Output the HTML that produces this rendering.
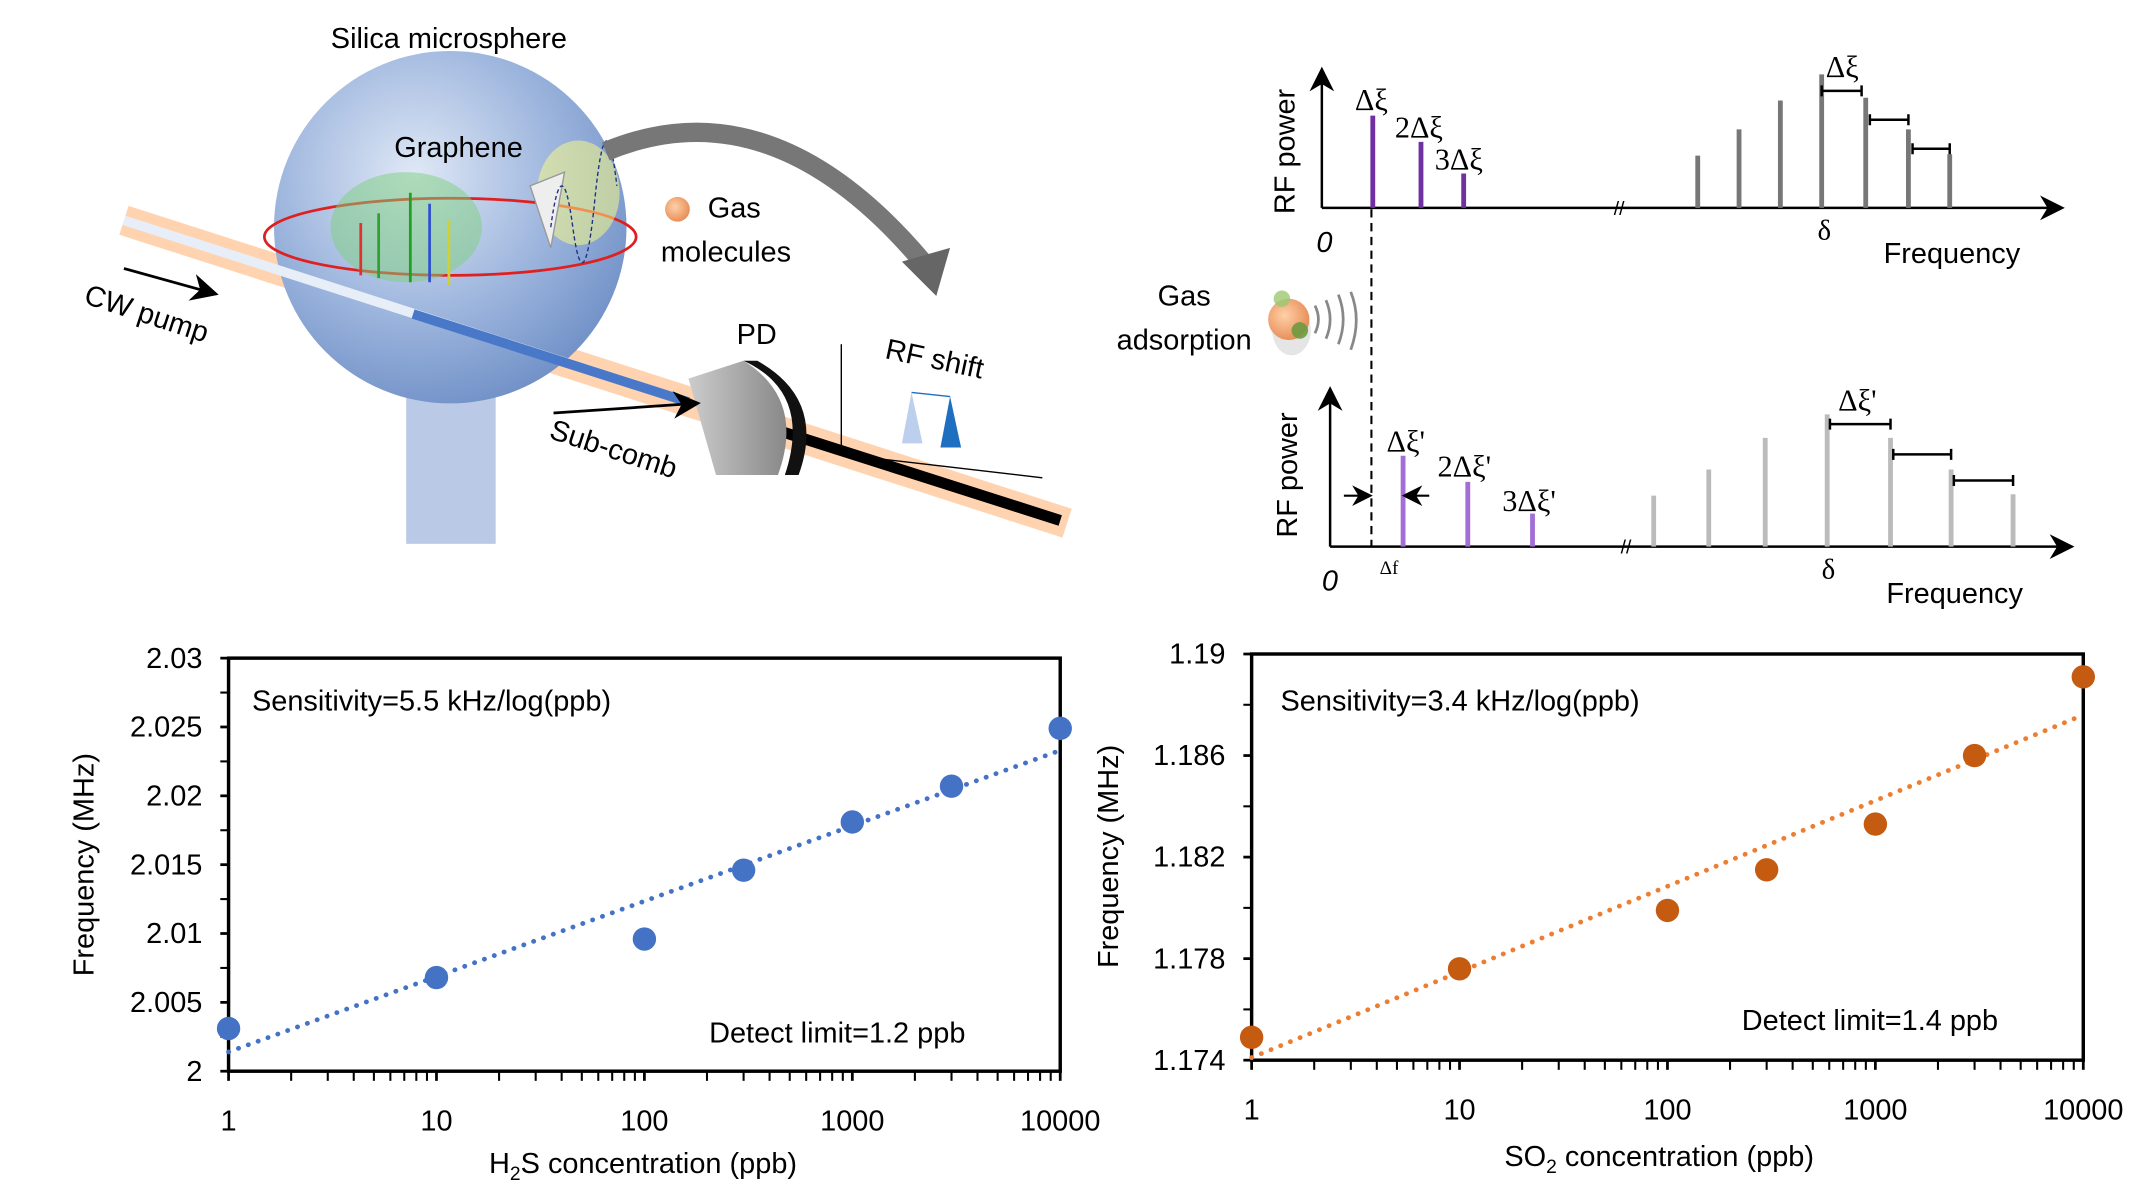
<!DOCTYPE html>
<html><head><meta charset="utf-8"><style>
html,body{margin:0;padding:0;background:#fff;}
svg{display:block;}
text{font-family:"Liberation Sans",sans-serif;}
.serif{font-family:"Liberation Serif",serif;}
</style></head><body>
<svg id="root" width="2148" height="1202" viewBox="0 0 1560 873" preserveAspectRatio="none" xmlns="http://www.w3.org/2000/svg">
<defs>
<radialGradient id="sph" cx="40%" cy="35%" r="70%"><stop offset="0" stop-color="#dfe8f6"/><stop offset="0.6" stop-color="#9ab3dc"/><stop offset="1" stop-color="#6f8fc6"/></radialGradient>
<radialGradient id="gas" cx="40%" cy="40%" r="60%"><stop offset="0" stop-color="#ffd0a8"/><stop offset="1" stop-color="#e8905a"/></radialGradient>
<linearGradient id="pd" x1="0" x2="1"><stop offset="0" stop-color="#ccc"/><stop offset="1" stop-color="#888"/></linearGradient>
<marker id="ah" markerWidth="10" markerHeight="10" refX="8" refY="5" orient="auto"><path d="M0,0 L10,5 L0,10 L3,5 z" fill="#000"/></marker>
</defs>

<g>
  <rect x="295" y="285" width="65" height="110" fill="#a9bde0" opacity="0.8"/>
  <ellipse cx="327" cy="285" rx="33" ry="7" fill="#9cb2da"/>
  <line x1="90" y1="160" x2="775" y2="380" stroke="#ffa050" stroke-width="22" opacity="0.45"/>
  <circle cx="327" cy="165" r="128" fill="url(#sph)"/>
  <ellipse cx="327" cy="172" rx="135" ry="28" fill="none" stroke="#e02020" stroke-width="2"/>
  <ellipse cx="295" cy="165" rx="55" ry="40" fill="#7ed07e" opacity="0.5"/>
  <g stroke-width="2"><line x1="262" y1="162" x2="262" y2="200" stroke="#e03030"/><line x1="275" y1="155" x2="275" y2="202" stroke="#30a030"/><line x1="298" y1="140" x2="298" y2="205" stroke="#20a020"/><line x1="312" y1="148" x2="312" y2="205" stroke="#3050d0"/><line x1="326" y1="160" x2="326" y2="207" stroke="#d0d030"/></g>
  <line x1="90" y1="160" x2="500" y2="292" stroke="#e8eef8" stroke-width="7"/>
  <line x1="300" y1="228" x2="500" y2="292" stroke="#4a78c8" stroke-width="7"/>
  <line x1="560" y1="311" x2="770" y2="378" stroke="#000" stroke-width="8"/>
  <path d="M500,275 L540,262 Q585,290 565,345 L520,345 Z" fill="url(#pd)"/>
  <path d="M540,262 Q590,285 570,345 L580,345 Q600,290 550,262Z" fill="#111"/>
  <ellipse cx="420" cy="140" rx="30" ry="38" fill="#ffff80" opacity="0.5"/>
  <path d="M385,135 L410,125 L400,180 Z" fill="#eee" stroke="#999"/>
  <path d="M400,165 q8,-60 16,0 t16,-20 t16,-10" fill="none" stroke="#203080" stroke-dasharray="3,2"/>
  <path d="M440,110 Q560,60 670,190" fill="none" stroke="#777" stroke-width="14"/>
  <path d="M655,190 L690,180 L680,215 Z" fill="#666"/>
  <circle cx="492" cy="152" r="9" fill="url(#gas)"/>
  <line x1="90" y1="195" x2="155" y2="213" stroke="#000" stroke-width="2" marker-end="url(#ah)"/>
  <line x1="402" y1="300" x2="505" y2="293" stroke="#000" stroke-width="2" marker-end="url(#ah)"/>
  <g>
    <line x1="611" y1="330" x2="611" y2="250" stroke="#000"/>
    <line x1="611" y1="330" x2="757" y2="347" stroke="#000"/>
    <path d="M655,322 L662,285 L670,322Z" fill="#bcd0ee"/>
    <path d="M683,325 L690,288 L698,325Z" fill="#1f6fc0"/>
    <path d="M662,285 L690,288" stroke="#1f6fc0" fill="none"/>
  </g>
  <text x="326" y="35" font-size="21" text-anchor="middle">Silica microsphere</text>
  <text x="333" y="114" font-size="21" text-anchor="middle">Graphene</text>
  <text x="514" y="158" font-size="21">Gas</text>
  <text x="480" y="190" font-size="21">molecules</text>
  <text x="60" y="220" font-size="21" transform="rotate(18 60 220)">CW pump</text>
  <text x="535" y="250" font-size="21">PD</text>
  <text x="398" y="318" font-size="21" transform="rotate(18 398 318)">Sub-comb</text>
  <text x="642" y="260" font-size="21" transform="rotate(12 642 260)">RF shift</text>
</g>

<g>
  <text x="860" y="222" font-size="21" text-anchor="middle">Gas</text>
  <text x="860" y="254" font-size="21" text-anchor="middle">adsorption</text>
  <ellipse cx="938" cy="240" rx="14" ry="18" fill="#ccc" opacity="0.5"/>
  <circle cx="936" cy="232" r="15" fill="url(#gas)"/>
  <circle cx="931" cy="217" r="6" fill="#9cc870" opacity="0.8"/>
  <circle cx="944" cy="240" r="6" fill="#6d9a40" opacity="0.9"/>
  <path d="M955,222 q5,10 0,20 M963,218 q6,14 0,28 M972,214 q7,18 0,36 M981,212 q8,20 0,42" fill="none" stroke="#888" stroke-width="2"/>
</g>

<g id="spec"></g>
<g id="chartL"></g>
<g id="chartR"></g>
</svg>
<script>
const h2sConc = [1, 10, 100, 300, 1000, 3000, 10000];
const h2sFreq = [2.0031, 2.0068, 2.0096, 2.0146, 2.0181, 2.0207, 2.0249];
const h2sFit = [2.0014, 2.0233];
const h2sYTicks = [2, 2.005, 2.01, 2.015, 2.02, 2.025, 2.03];
const h2sYLabels = ["2", "2.005", "2.01", "2.015", "2.02", "2.025", "2.03"];
const so2Conc = [1, 10, 100, 300, 1000, 3000, 10000];
const so2Freq = [1.1749, 1.1776, 1.1799, 1.1815, 1.1833, 1.1860, 1.1891];
const so2Fit = [1.1741, 1.1876];
const so2YTicks = [1.174, 1.178, 1.182, 1.186, 1.19];
const so2YLabels = ["1.174", "1.178", "1.182", "1.186", "1.19"];
const xTickVals = [1, 10, 100, 1000, 10000];
const xTickLabels = ["1", "10", "100", "1000", "10000"];
const topPurple = [67, 48, 25];
const topGray = [38, 57, 78, 97, 80, 57, 39];
const botPurple = [66, 47, 24];
const botGray = [37, 56, 79, 96, 79, 56, 38];

const NS = "http://www.w3.org/2000/svg";
function mk(parent, tag, attrs, txt) {
  const e = document.createElementNS(NS, tag);
  for (const k in attrs) e.setAttribute(k, attrs[k]);
  if (txt !== undefined) e.textContent = txt;
  parent.appendChild(e);
  return e;
}

function drawChart(g, cfg) {
  const {x0, x1, y0, y1, ymin, ymax, conc, freq, fit, yTicks, yLabels, ptColor, lineColor, minorStep} = cfg;
  const sx = v => x0 + Math.log10(v) / 4 * (x1 - x0);
  const sy = v => y1 - (v - ymin) / (ymax - ymin) * (y1 - y0);
  let e = mk(g, "rect", {x: x0, y: y0, width: x1 - x0, height: y1 - y0, fill: "none", stroke: "#000", "stroke-width": 2.5});
  
  
  yTicks.forEach((v, i) => {
    mk(g, "line", {x1: x0 - 6, x2: x0, y1: sy(v), y2: sy(v), stroke: "#000", "stroke-width": 2});
    const t = mk(g, "text", {x: x0 - 19, y: sy(v) + 7, "font-size": 21, "text-anchor": "end"}, yLabels[i]);
    
    
    if (i < yTicks.length - 1) {
      const m = v + minorStep;
      mk(g, "line", {x1: x0 - 6, x2: x0, y1: sy(m), y2: sy(m), stroke: "#000", "stroke-width": 1.5});
    }
  });
  xTickVals.forEach((v, i) => {
    const t = mk(g, "text", {x: sx(v), y: y1 + 43, "font-size": 21, "text-anchor": "middle"}, xTickLabels[i]);
    
    
    if (i < 4) for (let k = 1; k <= 9; k++) {
      const xv = sx(v * k);
      mk(g, "line", {x1: xv, x2: xv, y1: y1, y2: y1 + 7, stroke: "#000", "stroke-width": k === 1 ? 2 : 1.5});
    }
  });
  mk(g, "line", {x1: x1, x2: x1, y1: y1, y2: y1 + 7, stroke: "#000", "stroke-width": 2});
  const fl = mk(g, "line", {x1: sx(1), y1: sy(fit[0]), x2: sx(10000), y2: sy(fit[1]), stroke: lineColor, "stroke-width": 3.5, "stroke-dasharray": "0.1 7.5", "stroke-linecap": "round"});
  
  
  conc.forEach((c, i) => {
    const p = mk(g, "ellipse", {cx: sx(c), cy: sy(freq[i]), rx: 8.5, ry: 8.5, fill: ptColor});
    
    
  });
}

const gL = document.getElementById("chartL");
drawChart(gL, {x0: 166, x1: 770, y0: 478, y1: 778, ymin: 2, ymax: 2.03, conc: h2sConc, freq: h2sFreq, fit: h2sFit, yTicks: h2sYTicks, yLabels: h2sYLabels, ptColor: "#4472c4", lineColor: "#4472c4", minorStep: 0.0025});
mk(gL, "text", {x: 183, y: 516, "font-size": 21}, "Sensitivity=5.5 kHz/log(ppb)");
mk(gL, "text", {x: 515, y: 757, "font-size": 21}, "Detect limit=1.2 ppb");
let tl = mk(gL, "text", {x: 467, y: 852, "font-size": 21, "text-anchor": "middle"});
tl.innerHTML = 'H<tspan font-size="14" dy="5">2</tspan><tspan dy="-5">S concentration (ppb)</tspan>';

mk(gL, "text", {x: 68, y: 628, "font-size": 21, "text-anchor": "middle", transform: "rotate(-90 68 628)"}, "Frequency (MHz)");

const gR = document.getElementById("chartR");
drawChart(gR, {x0: 909, x1: 1513, y0: 475, y1: 770, ymin: 1.174, ymax: 1.19, conc: so2Conc, freq: so2Freq, fit: so2Fit, yTicks: so2YTicks, yLabels: so2YLabels, ptColor: "#c55a11", lineColor: "#ed7d31", minorStep: 0.002});
mk(gR, "text", {x: 930, y: 516, "font-size": 21}, "Sensitivity=3.4 kHz/log(ppb)");
mk(gR, "text", {x: 1265, y: 748, "font-size": 21}, "Detect limit=1.4 ppb");
let tr = mk(gR, "text", {x: 1205, y: 847, "font-size": 21, "text-anchor": "middle"});
tr.innerHTML = 'SO<tspan font-size="14" dy="5">2</tspan><tspan dy="-5"> concentration (ppb)</tspan>';

mk(gR, "text", {x: 812, y: 622, "font-size": 21, "text-anchor": "middle", transform: "rotate(-90 812 622)"}, "Frequency (MHz)");

const gs = document.getElementById("spec");
function spectrum(cfg) {
  const {ax, base, top, xend, purpleX, purple, purpleColor, grayX, gray, grayColor, breakX, scale} = cfg;
  mk(gs, "line", {x1: ax, y1: base, x2: ax, y2: top + 6, stroke: "#000", "stroke-width": 1.8, "marker-end": "url(#ah)"});
  mk(gs, "line", {x1: ax, y1: base, x2: xend - 4, y2: base, stroke: "#000", "stroke-width": 1.8, "marker-end": "url(#ah)"});
  mk(gs, "text", {x: breakX - 4, y: base + 5, "font-size": 14}, "//");
  purple.forEach((h, i) => {
    const b = mk(gs, "line", {x1: purpleX[i], x2: purpleX[i], y1: base, y2: base - h * scale, stroke: purpleColor, "stroke-width": 3.5});
    
  });
  gray.forEach((h, i) => {
    const b = mk(gs, "line", {x1: grayX[i], x2: grayX[i], y1: base, y2: base - h * scale, stroke: grayColor, "stroke-width": 3.5});
    
  });
}
spectrum({ax: 960, base: 151, top: 46, xend: 1500, purpleX: [997, 1032, 1063], purple: topPurple, purpleColor: "#7030a0", grayX: [1233, 1263, 1293, 1323, 1355, 1386, 1416], gray: topGray, grayColor: "#777", breakX: 1176, scale: 1.0});
spectrum({ax: 966, base: 397, top: 278, xend: 1507, purpleX: [1019, 1066, 1113], purple: botPurple, purpleColor: "#a36fd6", grayX: [1201, 1241, 1282, 1327, 1373, 1417, 1462], gray: botGray, grayColor: "#bbb", breakX: 1181, scale: 1.0});
[[1323,1352,66],[1358,1386,87],[1389,1416,108],[1329,1373,308],[1375,1417,330],[1419,1462,349]].forEach(b => {
  mk(gs, "path", {d: `M${b[0]},${b[2]-4}V${b[2]+4}M${b[0]},${b[2]}H${b[1]}M${b[1]},${b[2]-4}V${b[2]+4}`, stroke: "#000", "stroke-width": 1.8, fill: "none"});
});
mk(gs, "line", {x1: 996, y1: 152, x2: 996, y2: 397, stroke: "#000", "stroke-width": 1.5, "stroke-dasharray": "6,4"});
mk(gs, "line", {x1: 976, y1: 360, x2: 994, y2: 360, stroke: "#000", "stroke-width": 1.5, "marker-end": "url(#ah)"});
mk(gs, "line", {x1: 1038, y1: 360, x2: 1021, y2: 360, stroke: "#000", "stroke-width": 1.5, "marker-end": "url(#ah)"});
const lab = [["Δξ",984,80,22],["2Δξ",1013,100,22],["3Δξ",1042,123,22],["Δξ",1326,56,22],
             ["Δξ'",1007,328,22],["2Δξ'",1044,346,22],["3Δξ'",1091,371,22],["Δξ'",1335,298,22],
             ["δ",1320,174,21],["δ",1323,420,21],["Δf",1002,417,14]];
lab.forEach(l => { const t = mk(gs, "text", {x: l[1], y: l[2], "font-size": l[3], class: "serif"}, l[0]);  });
mk(gs, "text", {x: 956, y: 183, "font-size": 21, "font-style": "italic"}, "0");
mk(gs, "text", {x: 960, y: 429, "font-size": 21, "font-style": "italic"}, "0");
mk(gs, "text", {x: 1368, y: 191, "font-size": 21}, "Frequency");
mk(gs, "text", {x: 1370, y: 438, "font-size": 21}, "Frequency");
mk(gs, "text", {x: 940, y: 110, "font-size": 21, "text-anchor": "middle", transform: "rotate(-90 940 110)"}, "RF power");
mk(gs, "text", {x: 942, y: 345, "font-size": 21, "text-anchor": "middle", transform: "rotate(-90 942 345)"}, "RF power");
</script>
</body></html>
